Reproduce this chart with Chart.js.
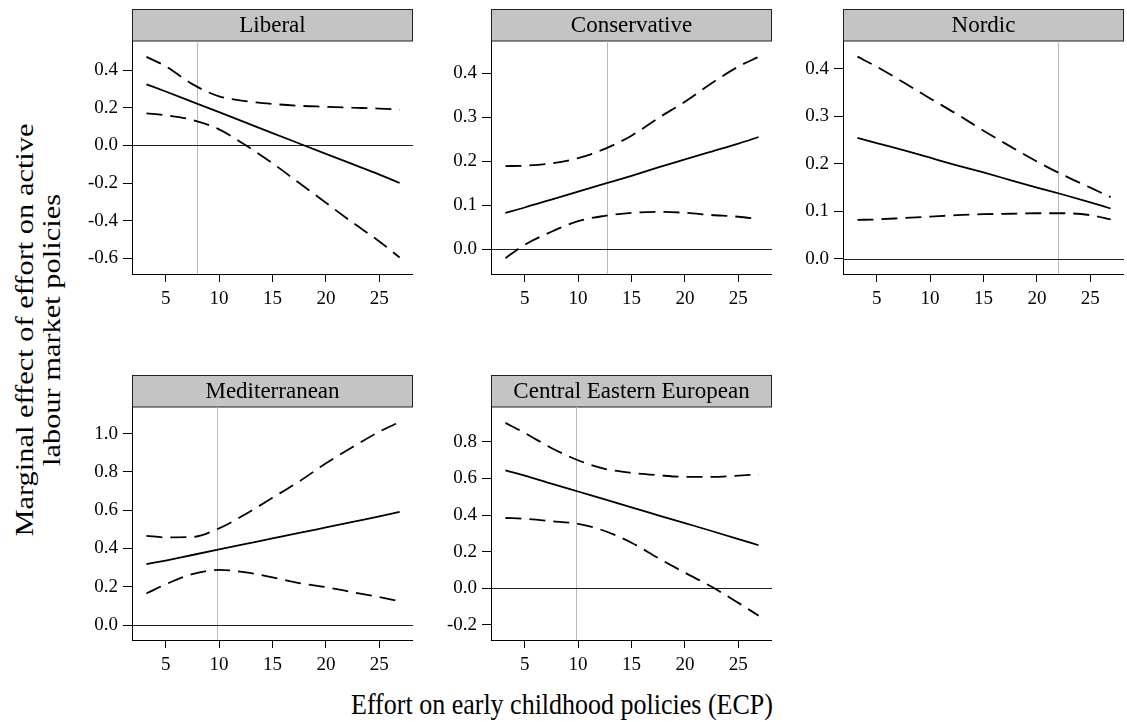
<!DOCTYPE html>
<html>
<head>
<meta charset="utf-8">
<script src="https://cdn.jsdelivr.net/npm/chart.js@4/dist/chart.umd.min.js"></script>
<style>
  html, body { margin:0; padding:0; background:#fff; }
  body { width:1127px; height:722px; position:relative; overflow:hidden; font-family:"Liberation Serif","Times New Roman",serif; }
  canvas { position:absolute; }
  .ttl { position:absolute; color:#000; font-size:26px; text-align:center; white-space:nowrap; }
  #xTitle { left:262px; top:690px; width:600px; line-height:30px; transform:scaleY(1.17); }
  #yTitle { left:-192px; top:303px; width:460px; line-height:27px; transform:rotate(-90deg) scale(1.17,1); }
</style>
</head>
<body>
<div id="yTitle" class="ttl">Marginal effect of effort on active<br>labour market policies</div>
<div id="xTitle" class="ttl">Effort on early childhood policies (ECP)</div>

<script>
/* ── Dados ────────────────────────────────────────────── */
const regimes = ['Liberal', 'Conservative', 'Nordic', 'Mediterranean', 'Central Eastern European'];
const ecp     = [3.2, 5, 7.5, 10, 12.5, 15, 17.5, 20, 22.5, 25, 26.9];
const xTicks  = [5, 10, 15, 20, 25];

// efeito marginal (me), limite inferior (lo) e superior (hi)
const liberalMe = [0.324, 0.286, 0.231, 0.176, 0.121, 0.065, 0.010, -0.045, -0.100, -0.155, -0.200];
const liberalLo = [0.170, 0.160, 0.135, 0.085, 0.000, -0.095, -0.200, -0.305, -0.410, -0.510, -0.595];
const liberalHi = [0.470, 0.420, 0.325, 0.260, 0.235, 0.220, 0.210, 0.205, 0.200, 0.195, 0.190];

const conservMe = [0.083, 0.095, 0.113, 0.131, 0.149, 0.167, 0.186, 0.204, 0.222, 0.240, 0.255];
const conservLo = [-0.020, 0.010, 0.040, 0.064, 0.076, 0.083, 0.085, 0.083, 0.078, 0.074, 0.069];
const conservHi = [0.189, 0.190, 0.195, 0.207, 0.228, 0.258, 0.298, 0.335, 0.377, 0.415, 0.437];

const nordicMe = [0.255, 0.244, 0.229, 0.213, 0.197, 0.182, 0.166, 0.150, 0.135, 0.119, 0.106];
const nordicLo = [0.082, 0.083, 0.086, 0.089, 0.092, 0.094, 0.095, 0.096, 0.096, 0.092, 0.083];
const nordicHi = [0.426, 0.405, 0.372, 0.338, 0.305, 0.270, 0.237, 0.205, 0.176, 0.150, 0.130];

const mediterMe = [0.318, 0.337, 0.366, 0.395, 0.424, 0.453, 0.481, 0.510, 0.539, 0.568, 0.591];
const mediterLo = [0.165, 0.213, 0.266, 0.288, 0.275, 0.249, 0.219, 0.198, 0.172, 0.146, 0.125];
const mediterHi = [0.466, 0.458, 0.460, 0.505, 0.580, 0.665, 0.750, 0.845, 0.930, 1.010, 1.060];

const ceeMe = [0.645, 0.616, 0.572, 0.529, 0.486, 0.442, 0.399, 0.356, 0.313, 0.269, 0.235];
const ceeLo = [0.384, 0.380, 0.367, 0.352, 0.313, 0.249, 0.165, 0.085, 0.008, -0.080, -0.150];
const ceeHi = [0.904, 0.849, 0.767, 0.700, 0.653, 0.631, 0.618, 0.609, 0.609, 0.616, 0.622];

// média de ECP por regime (linha vertical cinza)
const meanEcp = [7.9, 12.7, 22.0, 9.8, 9.8];

const yTicksLiberal = [-0.6, -0.4, -0.2, 0, 0.2, 0.4];
const yTicksConserv = [0, 0.1, 0.2, 0.3, 0.4];
const yTicksNordic  = [0, 0.1, 0.2, 0.3, 0.4];
const yTicksMediter = [0, 0.2, 0.4, 0.6, 0.8, 1.0];
const yTicksCee     = [-0.2, 0, 0.2, 0.4, 0.6, 0.8];

/* ── Layout dos painéis ───────────────────────────────── */
const FONT   = '"Liberation Serif","Times New Roman",serif';
const AXIS_W = 62, STRIP_H = 32, PLOT_W = 281, PLOT_H = 233, XAX_H = 46;
const DASH   = [16, 8];

const PANELS = [
  { left: 132, top: 9,   me: liberalMe, lo: liberalLo, hi: liberalHi, yt: yTicksLiberal, min: -0.683, max: 0.554 },
  { left: 491, top: 9,   me: conservMe, lo: conservLo, hi: conservHi, yt: yTicksConserv, min: -0.056, max: 0.473 },
  { left: 843, top: 9,   me: nordicMe,  lo: nordicLo,  hi: nordicHi,  yt: yTicksNordic,  min: -0.032, max: 0.459 },
  { left: 132, top: 375, me: mediterMe, lo: mediterLo, hi: mediterHi, yt: yTicksMediter, min: -0.078, max: 1.139 },
  { left: 491, top: 375, me: ceeMe,     lo: ceeLo,     hi: ceeHi,     yt: yTicksCee,     min: -0.283, max: 0.991 },
];

Chart.defaults.font.family = FONT;
Chart.defaults.color = '#000';

// faixa cinza do título + linhas de referência
const stripPlugin = {
  id: 'strip',
  beforeDraw(chart) {
    const { ctx, chartArea: a } = chart;
    ctx.save();
    ctx.fillStyle = '#c4c4c4';
    ctx.fillRect(a.left, 0, a.right - a.left, a.top);
    ctx.strokeStyle = '#222';
    ctx.lineWidth = 1;
    ctx.strokeRect(Math.round(a.left) + 0.5, 0.5, a.right - a.left - 1, a.top - 0.5);
    ctx.restore();
  }
};
const refPlugin = {
  id: 'refLines',
  beforeDatasetsDraw(chart, args, opts) {
    const { ctx, chartArea: a, scales: { x, y } } = chart;
    ctx.save();
    ctx.lineWidth = 1;
    const vx = Math.round(x.getPixelForValue(opts.mean)) + 0.5;
    ctx.strokeStyle = '#b8b8b8';
    ctx.beginPath(); ctx.moveTo(vx, a.top); ctx.lineTo(vx, a.bottom); ctx.stroke();
    const hy = Math.round(y.getPixelForValue(0)) + 0.5;
    ctx.strokeStyle = '#222';
    ctx.beginPath(); ctx.moveTo(a.left, hy); ctx.lineTo(a.right, hy); ctx.stroke();
    ctx.restore();
  }
};

const pts = ys => ecp.map((x, i) => ({ x, y: ys[i] }));
const serie = (ys, dash) => ({
  data: pts(ys), borderColor: '#000', borderWidth: 1.8, borderDash: dash,
  pointRadius: 0, cubicInterpolationMode: 'monotone', fill: false
});

PANELS.forEach((p, i) => {
  const cv = document.createElement('canvas');
  const w = AXIS_W + PLOT_W, h = STRIP_H + PLOT_H + XAX_H;
  cv.width = w; cv.height = h;
  cv.style.left = (p.left - AXIS_W) + 'px';
  cv.style.top = p.top + 'px';
  cv.style.width = w + 'px'; cv.style.height = h + 'px';
  document.body.appendChild(cv);

  new Chart(cv, {
    type: 'line',
    data: { datasets: [serie(p.me, []), serie(p.lo, DASH), serie(p.hi, DASH)] },
    plugins: [stripPlugin, refPlugin],
    options: {
      responsive: false, animation: false, devicePixelRatio: 1,
      layout: { padding: 0 },
      plugins: {
        legend: { display: false }, tooltip: { enabled: false },
        title: { display: true, text: regimes[i], fullSize: false, color: '#000',
                 font: { size: 23, weight: 'normal', lineHeight: 1 }, padding: { top: 5, bottom: 4 } },
        refLines: { mean: meanEcp[i] }
      },
      scales: {
        x: {
          type: 'linear', position: 'bottom', min: 1.85, max: 28.15,
          afterBuildTicks: s => { s.ticks = xTicks.map(v => ({ value: v })); },
          afterFit: s => { s.height = XAX_H; s.paddingLeft = 0; s.paddingRight = 0; },
          grid: { drawOnChartArea: false, drawTicks: true, tickLength: 8, color: '#000' },
          border: { display: true, color: '#000', width: 1 },
          ticks: { font: { size: 19 }, color: '#000', padding: 6, maxRotation: 0, autoSkip: false }
        },
        y: {
          type: 'linear', position: 'left', min: p.min, max: p.max,
          afterBuildTicks: s => { s.ticks = p.yt.map(v => ({ value: v })); },
          afterFit: s => { s.width = AXIS_W; s.paddingTop = 0; s.paddingBottom = 0; },
          grid: { drawOnChartArea: false, drawTicks: true, tickLength: 9, color: '#000' },
          border: { display: true, color: '#000', width: 1 },
          ticks: { font: { size: 19 }, color: '#000', padding: 5, autoSkip: false,
                   callback: v => v.toFixed(1) }
        }
      }
    }
  });
});
</script>
</body>
</html>
